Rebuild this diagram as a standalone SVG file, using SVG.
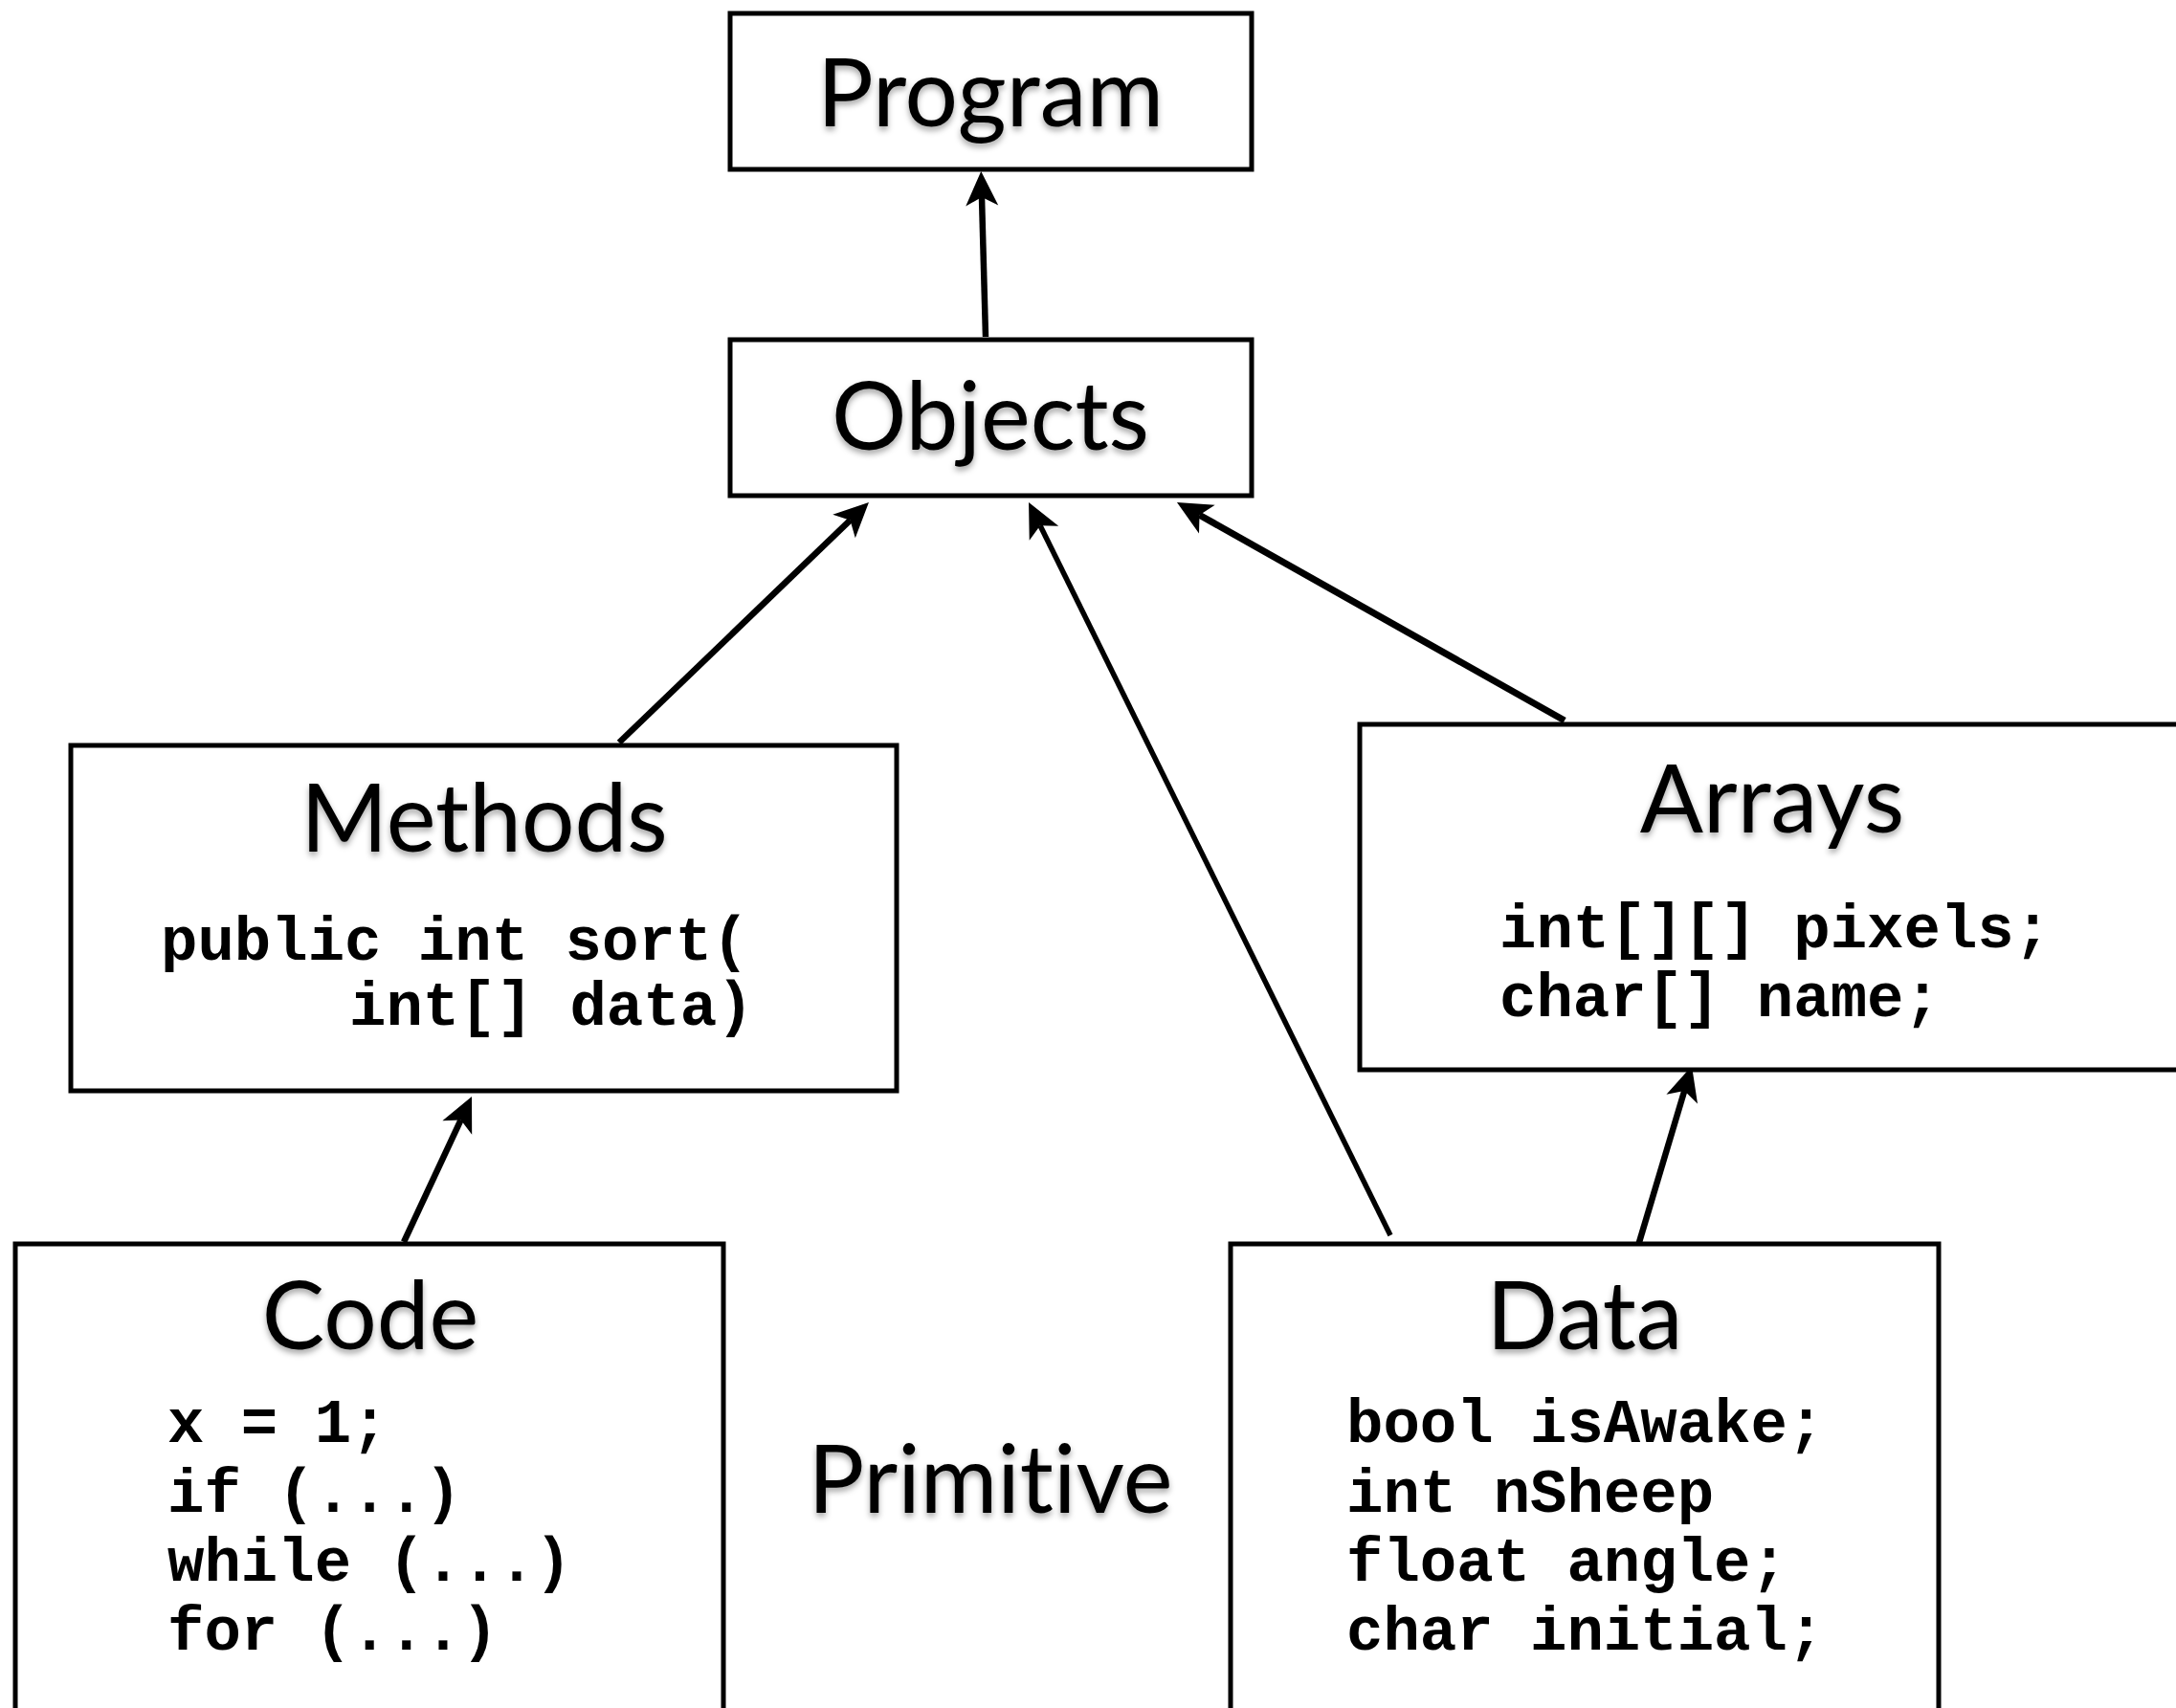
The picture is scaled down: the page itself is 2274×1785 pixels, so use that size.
<svg xmlns="http://www.w3.org/2000/svg" width="2274" height="1785" viewBox="0 0 2274 1785">
  <defs>
    <filter id="shadow" x="-10%" y="-20%" width="120%" height="150%">
      <feDropShadow dx="0" dy="4" stdDeviation="3" flood-color="#000" flood-opacity="0.35"/>
    </filter>
    <marker id="arrow" markerUnits="userSpaceOnUse" viewBox="-12 -20 42 40" refX="0" refY="0" markerWidth="42" markerHeight="40" orient="auto">
      <path d="M27,0 L-9,-17 L0,0 L-9,17 Z" fill="#000"/>
    </marker>
    <style>
      .box { fill: #fff; stroke: #000; stroke-width: 5; }
      .title { font-family: Lato, "Open Sans", sans-serif; font-size: 98px; fill: #000; text-anchor: middle; filter: url(#shadow); font-variant-ligatures: none; font-feature-settings: "liga" 0; }
      .code { font-family: "Liberation Mono", "Courier New", monospace; font-weight: bold; font-size: 64px; fill: #000; }
      .conn { stroke: #000; stroke-width: 6.5; fill: none; marker-end: url(#arrow); }
    </style>
  </defs>
  <rect width="2274" height="1785" fill="#fff"/>

  <g id="connectors">
    <line class="conn" x1="1030" y1="352" x2="1026" y2="206"/>
    <line class="conn" x1="647" y1="776" x2="888.5" y2="543.7"/>
    <line class="conn" x1="1453" y1="1291" x2="1087" y2="549.2" style="stroke-width:5.5"/>
    <line class="conn" x1="1635" y1="753" x2="1253.5" y2="538.2" style="stroke-width:7"/>
    <line class="conn" x1="422" y1="1298" x2="481.6" y2="1170.4"/>
    <line class="conn" x1="1711" y1="1305" x2="1760.3" y2="1139.9"/>
  </g>

  <g id="program">
    <rect class="box" x="763" y="14" width="545" height="163"/>
    <text class="title" x="1035" y="132">Program</text>
  </g>

  <g id="objects">
    <rect class="box" x="763" y="355" width="545" height="163"/>
    <text class="title" x="1035" y="470">Objects</text>
  </g>

  <g id="methods">
    <rect class="box" x="74" y="779" width="863" height="361"/>
    <text class="title" x="506" y="890">Methods</text>
    <text class="code" x="168" y="1003">public int sort(</text>
    <text class="code" x="365" y="1071">int[] data)</text>
  </g>

  <g id="arrays">
    <rect class="box" x="1421" y="757" width="880" height="361"/>
    <text class="title" x="1852" y="870">Arrays</text>
    <text class="code" x="1567" y="990">int[][] pixels;</text>
    <text class="code" x="1567" y="1062">char[] name;</text>
  </g>

  <g id="code">
    <rect class="box" x="16" y="1300" width="740" height="600"/>
    <text class="title" x="387" y="1410">Code</text>
    <text class="code" x="175" y="1507">x = 1;</text>
    <text class="code" x="175" y="1580">if (...)</text>
    <text class="code" x="175" y="1652">while (...)</text>
    <text class="code" x="175" y="1724">for (...)</text>
  </g>

  <g id="primitive">
    <text class="title" x="1035" y="1581">Primitive</text>
  </g>

  <g id="data">
    <rect class="box" x="1286" y="1300" width="740" height="600"/>
    <text class="title" x="1656" y="1410">Data</text>
    <text class="code" x="1407" y="1507">bool isAwake;</text>
    <text class="code" x="1407" y="1580">int nSheep</text>
    <text class="code" x="1407" y="1652">float angle;</text>
    <text class="code" x="1407" y="1724">char initial;</text>
  </g>
</svg>
